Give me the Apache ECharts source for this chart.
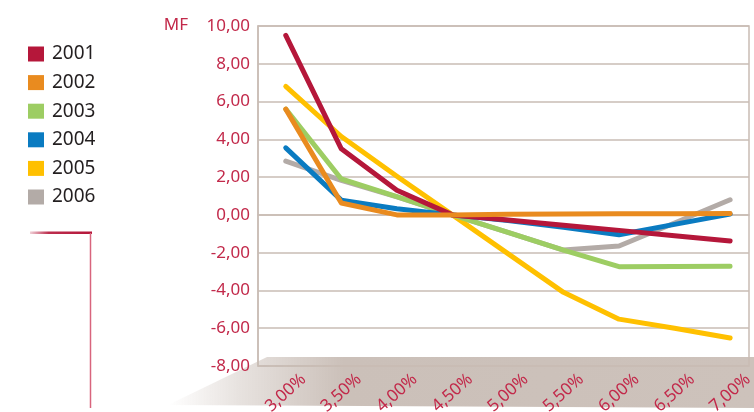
<!DOCTYPE html>
<html>
<head>
<meta charset="utf-8">
<script src="https://cdn.jsdelivr.net/npm/echarts@6/dist/echarts.min.js"></script>
<style>
html,body{margin:0;padding:0;background:#fff;}
#chart{width:754px;height:412px;}
</style>
</head>
<body>
<div id="chart"></div>
<script>
var rates = [3.0, 3.5, 4.0, 4.5, 5.0, 5.5, 6.0, 6.5, 7.0];
var years = ['2001', '2002', '2003', '2004', '2005', '2006'];
var y2001 = [9.5, 3.5, 1.3, 0.0, -0.27, -0.55, -0.82, -1.1, -1.38];
var y2002 = [5.6, 0.63, 0.0, 0.0, 0.03, 0.05, 0.06, 0.06, 0.07];
var y2003 = [5.6, 1.9, 0.97, 0.0, -0.93, -1.86, -2.74, -2.73, -2.72];
var y2004 = [3.55, 0.78, 0.32, 0.0, -0.3, -0.65, -1.05, -0.5, 0.05];
var y2005 = [6.8, 4.15, 2.05, 0.0, -2.05, -4.1, -5.52, -6.0, -6.52];
var y2006 = [2.85, 1.83, 0.95, 0.0, -0.93, -1.86, -1.65, -0.43, 0.8];
var yTicks = [-8, -6, -4, -2, 0, 2, 4, 6, 8, 10];

var colors = {
  '2001': '#b5173a',
  '2002': '#e98b1f',
  '2003': '#9dcd63',
  '2004': '#0a7bc1',
  '2005': '#ffc000',
  '2006': '#b3aba7'
};
var values = { '2001': y2001, '2002': y2002, '2003': y2003, '2004': y2004, '2005': y2005, '2006': y2006 };
var drawOrder = ['2006', '2005', '2003', '2004', '2001', '2002'];

function pairs(arr) { return rates.map(function (r, i) { return [r, arr[i]]; }); }
function fmt(v) { return v.toFixed(2).replace('.', ','); }

var red = '#c2294a';
var grid = '#c9bcb4';

var chart = echarts.init(document.getElementById('chart'), null, { renderer: 'canvas' });
chart.setOption({
  animation: false,
  color: drawOrder.map(function (y) { return colors[y]; }),
  legend: {
    data: years.map(function (y) { return { name: y, itemStyle: { color: colors[y] } }; }),
    orient: 'vertical',
    left: 28,
    top: 44.5,
    padding: 0,
    itemWidth: 16,
    itemHeight: 15,
    itemGap: 9.6,
    icon: 'rect',
    textStyle: { fontFamily: 'Noto Sans', fontSize: 19, color: '#231f20', padding: [0, 0, 0, 3] }
  },
  grid: {
    left: 258, right: 5, top: 26, bottom: 46,
    outerBoundsMode: 'none',
    containLabel: false,
    show: true, borderColor: grid, borderWidth: 1.5, backgroundColor: 'transparent'
  },
  xAxis: {
    type: 'value',
    min: 2.75,
    max: 7.17,
    interval: 0.25,
    splitLine: { show: false },
    axisTick: { show: false },
    axisLine: { show: true, lineStyle: { color: grid, width: 1.5 } },
    axisLabel: {
      showMinLabel: false,
      showMaxLabel: false,
      rotate: 42,
      align: 'center',
      verticalAlign: 'middle',
      margin: 27,
      color: red,
      fontFamily: 'Noto Sans',
      fontSize: 17,
      formatter: function (v) {
        if (Math.abs(v * 2 - Math.round(v * 2)) > 1e-6) return '';
        return fmt(v) + '%';
      }
    }
  },
  yAxis: {
    type: 'value',
    min: yTicks[0],
    max: yTicks[yTicks.length - 1],
    interval: 2,
    name: 'MF',
    nameLocation: 'end',
    nameGap: 1,
    nameTextStyle: { color: red, fontFamily: 'Noto Sans', fontSize: 17, align: 'right', verticalAlign: 'middle', padding: [0, 70, 0, 0] },
    axisLine: { show: true, lineStyle: { color: grid, width: 1.5 } },
    axisTick: { show: false },
    splitLine: { lineStyle: { color: grid, width: 1.5 } },
    axisLabel: { color: red, fontFamily: 'Noto Sans', fontSize: 17, margin: 8, formatter: fmt }
  },
  graphic: [
    {
      type: 'polygon', z: -10, silent: true,
      shape: { points: [[267, 357], [754, 357], [754, 408], [168, 405]] },
      style: {
        fill: new echarts.graphic.LinearGradient(0, 0, 1, 0, [
          { offset: 0, color: 'rgba(203,192,185,0)' },
          { offset: 0.12, color: 'rgba(203,192,185,0.45)' },
          { offset: 0.3, color: 'rgba(203,192,185,1)' },
          { offset: 1, color: 'rgba(205,194,187,1)' }
        ])
      }
    },
    {
      type: 'rect', z: 10, silent: true,
      shape: { x: 30, y: 231.5, width: 62, height: 2.5 },
      style: {
        fill: new echarts.graphic.LinearGradient(0, 0, 1, 0, [
          { offset: 0, color: 'rgba(181,23,58,0.2)' },
          { offset: 0.3, color: 'rgba(181,23,58,0.9)' },
          { offset: 1, color: 'rgba(181,23,58,1)' }
        ])
      }
    },
    {
      type: 'line', z: 10, silent: true,
      shape: { x1: 90.5, y1: 233, x2: 90.5, y2: 408 },
      style: { stroke: '#d8647d', lineWidth: 1.5 }
    }
  ],
  series: drawOrder.map(function (y) {
    return {
      name: y,
      type: 'line',
      data: pairs(values[y]),
      showSymbol: false,
      symbol: 'none',
      lineStyle: { width: 5, color: colors[y], cap: 'round', join: 'round' },
      itemStyle: { color: colors[y] }
    };
  })
});
</script>
</body>
</html>
